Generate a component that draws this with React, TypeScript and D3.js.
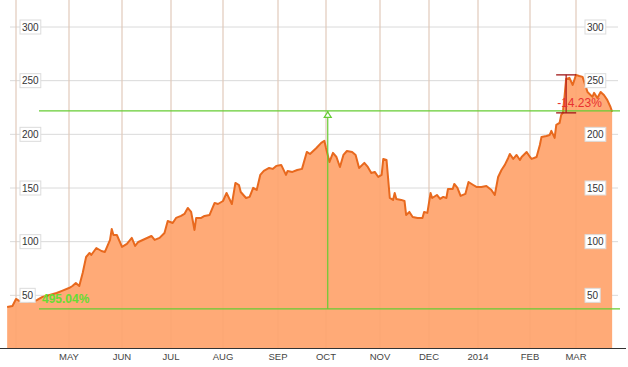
import React from "react";
import * as d3 from "d3";

const dates: string[] = [
  "2013-03-27","2013-03-30","2013-04-01","2013-04-03","2013-04-06","2013-04-09","2013-04-13","2013-04-16","2013-04-20","2013-04-24","2013-04-27",
  "2013-05-01","2013-05-03","2013-05-05","2013-05-07","2013-05-09","2013-05-11","2013-05-13","2013-05-14","2013-05-17","2013-05-20","2013-05-22","2013-05-25","2013-05-26","2013-05-27","2013-05-29",
  "2013-06-01","2013-06-04","2013-06-07","2013-06-09","2013-06-11","2013-06-15","2013-06-19","2013-06-21","2013-06-24","2013-06-27","2013-06-29",
  "2013-07-02","2013-07-04","2013-07-07","2013-07-09","2013-07-11","2013-07-13","2013-07-15","2013-07-16","2013-07-19","2013-07-21","2013-07-24","2013-07-27","2013-07-29",
  "2013-08-01","2013-08-03","2013-08-06","2013-08-08","2013-08-10","2013-08-11","2013-08-14","2013-08-16","2013-08-18","2013-08-20","2013-08-22","2013-08-24","2013-08-27","2013-08-29","2013-08-31",
  "2013-09-03","2013-09-06","2013-09-07","2013-09-10","2013-09-13","2013-09-16","2013-09-19","2013-09-21","2013-09-25","2013-09-28","2013-09-30",
  "2013-10-01","2013-10-03","2013-10-05","2013-10-07","2013-10-09","2013-10-11","2013-10-13","2013-10-16","2013-10-18","2013-10-20","2013-10-23","2013-10-25","2013-10-27","2013-10-29","2013-10-31",
  "2013-11-02","2013-11-03","2013-11-05","2013-11-07","2013-11-09","2013-11-10","2013-11-11","2013-11-14","2013-11-16","2013-11-17","2013-11-19","2013-11-21","2013-11-24","2013-11-27","2013-11-28","2013-11-30",
  "2013-12-02","2013-12-03","2013-12-06","2013-12-08","2013-12-10","2013-12-12","2013-12-13","2013-12-16","2013-12-17","2013-12-19","2013-12-21","2013-12-24","2013-12-26","2013-12-29","2013-12-31",
  "2014-01-03","2014-01-06","2014-01-09","2014-01-11","2014-01-13","2014-01-15","2014-01-17","2014-01-19","2014-01-20","2014-01-22","2014-01-24","2014-01-26","2014-01-27","2014-01-30",
  "2014-02-01","2014-02-02","2014-02-05","2014-02-07","2014-02-08","2014-02-11","2014-02-13","2014-02-14","2014-02-16","2014-02-17","2014-02-19","2014-02-20","2014-02-21","2014-02-22","2014-02-23","2014-02-25","2014-02-27",
  "2014-03-01","2014-03-03","2014-03-05","2014-03-07","2014-03-08","2014-03-11","2014-03-12","2014-03-14","2014-03-16","2014-03-18","2014-03-20","2014-03-22","2014-03-23",
];

const prices: number[] = [
  39.1,40.1,46.6,44.7,45.7,43.8,45.7,48.5,50.3,52.2,54.1,
  56.8,58.7,61.5,58.7,70.8,85.7,89.5,87.6,94.1,91.3,90.4,101.6,111.8,106.2,106.2,
  95.1,97.9,103.5,96.0,99.7,102.5,105.3,101.6,103.5,108.1,119.3,
  117.4,122.1,124.0,125.8,131.4,127.7,110.9,122.1,122.1,124.0,124.9,136.1,135.1,
  137.9,145.4,135.1,154.7,152.8,146.3,140.7,141.7,150.1,148.2,162.2,165.9,168.7,167.8,170.6,
  171.5,162.2,165.9,165.0,166.8,167.8,183.6,181.7,187.3,192.0,193.9,
  187.3,174.3,182.7,178.9,169.6,180.8,184.5,183.6,180.8,168.7,173.4,169.6,164.0,165.0,160.3,
  162.2,177.1,176.1,140.7,138.9,145.4,139.8,138.9,137.9,124.9,127.7,123.0,122.1,122.1,127.7,126.8,
  145.4,140.7,143.5,139.8,141.7,140.7,149.1,149.1,153.8,150.1,142.6,144.5,155.6,152.8,151.0,
  151.0,151.9,148.2,143.5,160.3,166.8,171.5,178.0,181.7,177.1,180.8,176.1,178.9,183.6,
  178.9,177.1,178.9,190.1,197.6,198.5,199.4,203.2,196.7,208.8,210.6,218.1,220.0,234.9,251.6,252.6,246.0,
  255.4,254.4,253.5,244.2,239.5,234.9,238.6,233.9,239.5,236.7,232.1,225.5,220.9,
];

const gridMonths: string[] = ["2013-04-01","2013-05-01","2013-06-01","2013-07-01","2013-08-01","2013-09-01","2013-10-01","2013-11-01","2013-12-01","2014-01-01","2014-02-01","2014-03-01"];
const monthLabels: string[] = ["", "MAY", "JUN", "JUL", "AUG", "SEP", "OCT", "NOV", "DEC", "2014", "FEB", "MAR"];
const yTicks: number[] = [50, 100, 150, 200, 250, 300];

const lowLevel = 37.3;
const highLevel = 221.8;
const gainLabel = "495.04%";
const gainDate = "2013-10-02";
const lineStartDate = "2013-04-14";
const dropTop = 255.4;
const dropBottom = 220;
const dropDate = "2014-02-23";
const dropLabel = "-14.23%";

// layout: pixel positions of the month starts on the trading-day axis
const monthX = [16, 69, 122, 171, 223, 278, 326, 380, 429, 478, 530, 576];

const W = 628, H = 367;
const parse = d3.timeParse("%Y-%m-%d");

export default function App() {
  const data = dates.map((d, i) => ({ date: parse(d) as Date, v: prices[i] }));
  const x = d3.scaleTime().domain(gridMonths.map((d) => parse(d) as Date)).range(monthX);
  const y = d3.scaleLinear().domain([0, 300]).range([349, 27]);
  const baseY = 348;

  const area = d3.area<{ date: Date; v: number }>().x((d) => x(d.date)).y0(baseY).y1((d) => y(d.v));
  const line = d3.line<{ date: Date; v: number }>().x((d) => x(d.date)).y((d) => y(d.v));

  const font = "Arial, 'Liberation Sans', Helvetica, sans-serif";
  const green = "#66cc33";
  const gx = x(parse(gainDate) as Date);
  const lx0 = x(parse(lineStartDate) as Date);
  const rx = x(parse(dropDate) as Date);
  const yHigh = y(highLevel), yLow = y(lowLevel);

  const labelBox = (v: number, x0: number, key: string) => {
    const t = String(v);
    const w = t.length * 5.6 + 4;
    return (
      <g key={key}>
        <rect x={x0} y={y(v) - 7} width={w} height={14} fill="#fff" stroke="#dcdcdc" strokeWidth={1} />
        <text x={x0 + 2} y={y(v) + 3.5} fontSize={10} fill="#333" fontFamily={font}>{t}</text>
      </g>
    );
  };

  return (
    <svg width={W} height={H} style={{ position: "absolute", left: 0, top: 0, background: "#fff" }}>
      {/* grid */}
      {gridMonths.map((m, i) => (
        <line key={"vg" + i} x1={x(parse(m) as Date)} x2={x(parse(m) as Date)} y1={0} y2={baseY} stroke="#e6e6e6" strokeWidth={1.5} />
      ))}
      {yTicks.map((t) => (
        <line key={"hg" + t} x1={10} x2={618} y1={y(t)} y2={y(t)} stroke="#dadada" strokeWidth={1} />
      ))}
      {/* area */}
      <path d={area(data) || ""} fill="#ffaa77" />
      {gridMonths.map((m, i) => (
        <line key={"vg2" + i} x1={x(parse(m) as Date)} x2={x(parse(m) as Date)} y1={0} y2={baseY} stroke="#f0a070" strokeOpacity={0.35} strokeWidth={1} />
      ))}
      <path d={line(data) || ""} fill="none" stroke="#e8691e" strokeWidth={2} strokeLinejoin="round" />
      {/* baseline */}
      <line x1={0} x2={626} y1={baseY + 0.5} y2={baseY + 0.5} stroke="#333" strokeWidth={1} />
      {/* month labels */}
      {gridMonths.map((m, i) =>
        monthLabels[i] ? (
          <text key={"ml" + i} x={x(parse(m) as Date)} y={360} fontSize={9.5} fill="#444" textAnchor="middle" fontFamily={font}>
            {monthLabels[i]}
          </text>
        ) : null
      )}
      {/* y labels */}
      {yTicks.map((t) => labelBox(t, 20, "l" + t))}
      {yTicks.map((t) => labelBox(t, 585, "r" + t))}
      {/* green annotation */}
      <line x1={lx0} x2={620} y1={yHigh} y2={yHigh} stroke={green} strokeWidth={1.2} />
      <line x1={lx0} x2={620} y1={yLow} y2={yLow} stroke={green} strokeWidth={1.2} />
      <line x1={gx} x2={gx} y1={yHigh} y2={yLow} stroke={green} strokeWidth={1.2} />
      <path d={`M${gx},${yHigh + 1} L${gx - 3.5},${yHigh + 6.5} L${gx + 3.5},${yHigh + 6.5} Z`} fill="#fff" stroke={green} strokeWidth={1.2} />
      <text x={lx0 + 3} y={yLow - 6} fontSize={12} fontWeight="bold" fill="#66dd33" fontFamily={font}>{gainLabel}</text>
      {/* red annotation */}
      <line x1={rx} x2={rx} y1={y(dropTop)} y2={y(dropBottom)} stroke="#b52020" strokeWidth={1.3} />
      <line x1={rx - 10} x2={rx + 10} y1={y(dropTop)} y2={y(dropTop)} stroke="#a01818" strokeWidth={1.3} />
      <line x1={rx - 10} x2={rx + 10} y1={y(dropBottom)} y2={y(dropBottom)} stroke="#a01818" strokeWidth={1.3} />
      <text x={rx - 9} y={y(dropBottom) - 6} fontSize={12} fill="#e83030" fontFamily={font}>{dropLabel}</text>
    </svg>
  );
}
